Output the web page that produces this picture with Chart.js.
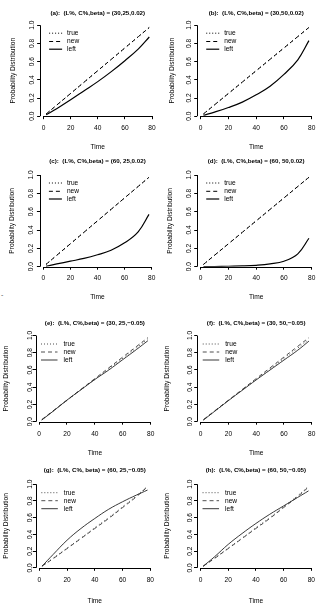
<!DOCTYPE html>
<html>
<head>
<meta charset="utf-8">
<script src="https://cdn.jsdelivr.net/npm/chart.js@4.4.0/dist/chart.umd.min.js"></script>
<style>
  html, body { margin: 0; padding: 0; background: #fff; }
  #wrap { position: relative; width: 319px; height: 610px; overflow: hidden; }
  #wrap canvas { position: absolute; left: 0; top: 0; }
  #stray { position: absolute; left: 1px; top: 291px; font: 7px 'Liberation Sans', Arial, sans-serif; color: #555; }
</style>
</head>
<body>
<div id="wrap"><span id="stray">-</span></div>
<script>
// time grid shared by every panel
const time = [2, 10, 20, 30, 40, 50, 60, 70, 78];
const xTicks = [0, 20, 40, 60, 80];
const xTickLabels = ["0", "20", "40", "60", "80"];
const yTicks = [0, 0.2, 0.4, 0.6, 0.8, 1.0];
const yTickLabels = ["0.0", "0.2", "0.4", "0.6", "0.8", "1.0"];
const seriesNames = ["true", "new", "left"];

const titles = [
  "(a):  (L%, C%,beta) = (30,25,0.02)",
  "(b):  (L%, C%,beta) = (30,50,0.02)",
  "(c):  (L%, C%,beta) = (60, 25,0.02)",
  "(d):  (L%, C%,beta) = (60, 50,0.02)",
  "(e):  (L%, C%,beta) = (30, 25,\u22120.05)",
  "(f):  (L%, C%,beta) = (30, 50,\u22120.05)",
  "(g):  (L%, C%, beta) = (60, 25,\u22120.05)",
  "(h):  (L%, C%,beta) = (60, 50,\u22120.05)"
];

// series values, one array per curve
const trueA = [0.025, 0.125, 0.25, 0.375, 0.5, 0.625, 0.75, 0.875, 0.975];
const newA  = [0.025, 0.125, 0.25, 0.375, 0.5, 0.625, 0.75, 0.875, 0.975];
const leftA = [0.015, 0.085, 0.18, 0.28, 0.38, 0.49, 0.61, 0.74, 0.87];

const trueB = [0.025, 0.125, 0.25, 0.375, 0.5, 0.625, 0.75, 0.875, 0.975];
const newB  = [0.025, 0.125, 0.25, 0.375, 0.5, 0.625, 0.75, 0.875, 0.975];
const leftB = [0.01, 0.045, 0.095, 0.155, 0.235, 0.33, 0.46, 0.62, 0.83];

const trueC = [0.025, 0.125, 0.25, 0.375, 0.5, 0.625, 0.75, 0.875, 0.975];
const newC  = [0.025, 0.125, 0.25, 0.375, 0.5, 0.625, 0.75, 0.875, 0.975];
const leftC = [0.005, 0.03, 0.06, 0.09, 0.13, 0.18, 0.26, 0.38, 0.57];

const trueD = [0.025, 0.125, 0.25, 0.375, 0.5, 0.625, 0.75, 0.875, 0.975];
const newD  = [0.025, 0.125, 0.25, 0.375, 0.5, 0.625, 0.75, 0.875, 0.975];
const leftD = [0.0, 0.002, 0.005, 0.008, 0.015, 0.03, 0.06, 0.14, 0.31];

const trueE = [0.02, 0.12, 0.245, 0.37, 0.49, 0.615, 0.735, 0.86, 0.96];
const newE  = [0.025, 0.125, 0.25, 0.375, 0.5, 0.625, 0.75, 0.875, 0.975];
const leftE = [0.02, 0.12, 0.25, 0.37, 0.49, 0.6, 0.72, 0.84, 0.94];

const trueF = [0.02, 0.12, 0.245, 0.37, 0.49, 0.61, 0.735, 0.855, 0.955];
const newF  = [0.025, 0.125, 0.25, 0.375, 0.5, 0.625, 0.75, 0.875, 0.975];
const leftF = [0.02, 0.12, 0.245, 0.365, 0.485, 0.6, 0.715, 0.83, 0.935];

const trueG = [0.02, 0.115, 0.235, 0.355, 0.48, 0.6, 0.73, 0.86, 0.98];
const newG  = [0.02, 0.11, 0.23, 0.35, 0.47, 0.59, 0.72, 0.85, 0.97];
const leftG = [0.02, 0.16, 0.33, 0.47, 0.59, 0.70, 0.79, 0.87, 0.93];

const trueH = [0.02, 0.115, 0.235, 0.355, 0.48, 0.6, 0.73, 0.86, 0.975];
const newH  = [0.02, 0.11, 0.23, 0.35, 0.47, 0.59, 0.72, 0.85, 0.965];
const leftH = [0.02, 0.13, 0.28, 0.41, 0.53, 0.64, 0.74, 0.84, 0.92];

const FONT = "'Liberation Sans', Arial, sans-serif";

// where each panel sits on the page (pixel of x=0, x=80, y=1, y=0 and the text spots)
const panels = [
  { data: [trueA, newA, leftA], x0: 43.5,  x80: 152,   y1: 25.2,  y0: 116.2, titleY: 13,    timeY: 147, ylabX: 12.7,  yTickX: 31.7,  top: true },
  { data: [trueB, newB, leftB], x0: 200.7, x80: 311.7, y1: 25.2,  y0: 116.2, titleY: 13,    timeY: 147, ylabX: 171.7, yTickX: 189,   top: true },
  { data: [trueC, newC, leftC], x0: 43.3,  x80: 151.7, y1: 175,   y0: 266.7, titleY: 161,   timeY: 297, ylabX: 11.7,  yTickX: 31.5,  top: true },
  { data: [trueD, newD, leftD], x0: 200.7, x80: 311.7, y1: 175,   y0: 266.7, titleY: 161,   timeY: 297, ylabX: 170,   yTickX: 189,   top: true },
  { data: [trueE, newE, leftE], x0: 39,    x80: 150.7, y1: 335.5, y0: 421.7, titleY: 323,   timeY: 453, ylabX: 6,     yTickX: 30,    top: false },
  { data: [trueF, newF, leftF], x0: 200.7, x80: 311.7, y1: 335.5, y0: 421.7, titleY: 323,   timeY: 453, ylabX: 167,   yTickX: 190.5, top: false },
  { data: [trueG, newG, leftG], x0: 39.3,  x80: 150.3, y1: 484.2, y0: 567.8, titleY: 470.7, timeY: 601, ylabX: 5.7,   yTickX: 30.5,  top: false },
  { data: [trueH, newH, leftH], x0: 200.5, x80: 311.3, y1: 484.2, y0: 567.8, titleY: 470.7, timeY: 601, ylabX: 167,   yTickX: 190.5, top: false }
];

// R-style decorations: axis lines between end ticks, tick labels, titles, legend
const decor = {
  id: "decor",
  afterDraw(chart, args, opts) {
    const p = opts.panel;
    const ctx = chart.ctx;
    const ca = chart.chartArea;
    const xs = chart.scales.x, ys = chart.scales.y;
    ctx.save();
    ctx.strokeStyle = "#000";
    ctx.lineWidth = 1;
    ctx.beginPath();
    ctx.moveTo(xs.getPixelForValue(xTicks[0]), Math.round(ca.bottom) + 0.5);
    ctx.lineTo(xs.getPixelForValue(xTicks[xTicks.length - 1]), Math.round(ca.bottom) + 0.5);
    ctx.moveTo(Math.round(ca.left) + 0.5, ys.getPixelForValue(yTicks[0]));
    ctx.lineTo(Math.round(ca.left) + 0.5, ys.getPixelForValue(yTicks[yTicks.length - 1]));
    ctx.stroke();

    ctx.fillStyle = "#000";
    ctx.font = "6.6px " + FONT;
    ctx.textAlign = "center";
    ctx.textBaseline = "middle";
    yTicks.forEach((v, i) => {
      ctx.save();
      ctx.translate(p.yTickX, ys.getPixelForValue(v));
      ctx.rotate(-Math.PI / 2);
      ctx.fillText(yTickLabels[i], 0, 0);
      ctx.restore();
    });
    xTicks.forEach((v, i) => {
      ctx.fillText(xTickLabels[i], xs.getPixelForValue(v), ca.bottom + (p.top ? 11.5 : 12.5));
    });

    ctx.fillText("Time", (ca.left + ca.right) / 2, p.timeY);
    ctx.save();
    ctx.translate(p.ylabX, (ca.top + ca.bottom) / 2);
    ctx.rotate(-Math.PI / 2);
    ctx.fillText("Probability Distribution", 0, 0);
    ctx.restore();

    ctx.font = "bold 6.2px " + FONT;
    ctx.fillText(opts.title, (ca.left + ca.right) / 2, p.titleY);

    // legend
    const rows = p.top ? [8, 16.3, 24] : [8.5, 16.5, 24.5];
    const lx1 = ca.left + (p.top ? 9 : 5.5);
    const lx2 = ca.left + 22;
    const tx = ca.left + (p.top ? 27 : 28);
    ctx.font = "6.6px " + FONT;
    ctx.textAlign = "left";
    chart.data.datasets.forEach((ds, i) => {
      const y = ca.top + rows[i];
      ctx.save();
      ctx.strokeStyle = ds.borderColor;
      ctx.lineWidth = ds.borderWidth;
      ctx.setLineDash(i === 0 ? [1, 2] : (ds.borderDash || []));
      ctx.beginPath();
      ctx.moveTo(lx1, y);
      ctx.lineTo(lx2, y);
      ctx.stroke();
      ctx.restore();
      ctx.fillText(ds.label, tx, y);
    });
    ctx.restore();
  }
};

const wrap = document.getElementById("wrap");

panels.forEach((p, idx) => {
  const canvas = document.createElement("canvas");
  canvas.width = 319;
  canvas.height = 610;
  wrap.appendChild(canvas);

  const ux = (p.x80 - p.x0) / 80;
  const left = p.x0 - 2.5 * ux;
  const right = p.x80 + 2.5 * ux;
  const lw = p.top ? 1 : 0.8;
  const col = p.top ? "#000" : "#222";
  // dotted pattern sits inside the dashes so coinciding curves keep clean gaps
  const dashes = [[1, 2, 1, 3], [4, 3], []];
  const widths = [lw, lw, p.top ? 1.2 : 0.9];

  new Chart(canvas, {
    type: "line",
    data: {
      datasets: seriesNames.map((name, k) => ({
        label: name,
        data: time.map((t, i) => ({ x: t, y: p.data[k][i] })),
        borderColor: col,
        borderWidth: widths[k],
        borderDash: dashes[k],
        pointRadius: 0,
        fill: false,
        tension: 0.4
      }))
    },
    options: {
      responsive: false,
      animation: false,
      devicePixelRatio: 1,
      layout: {
        padding: { left: left, top: p.y1, right: 319 - right, bottom: 610 - p.y0 }
      },
      plugins: {
        legend: { display: false },
        tooltip: { enabled: false },
        title: { display: false },
        decor: { panel: p, title: titles[idx] }
      },
      scales: {
        x: {
          type: "linear",
          min: -2.5,
          max: 82.5,
          afterFit: s => { s.height = 0; },
          afterBuildTicks: s => { s.ticks = xTicks.map(v => ({ value: v })); },
          grid: { drawOnChartArea: false, drawTicks: true, tickLength: 3, color: "#000", lineWidth: 1 },
          border: { display: false },
          ticks: { display: false }
        },
        y: {
          type: "linear",
          min: 0,
          max: 1,
          afterFit: s => { s.width = 0; },
          afterBuildTicks: s => { s.ticks = yTicks.map(v => ({ value: v })); },
          grid: { drawOnChartArea: false, drawTicks: true, tickLength: 3, color: "#000", lineWidth: 1 },
          border: { display: false },
          ticks: { display: false }
        }
      }
    },
    plugins: [decor]
  });
});
</script>
</body>
</html>
